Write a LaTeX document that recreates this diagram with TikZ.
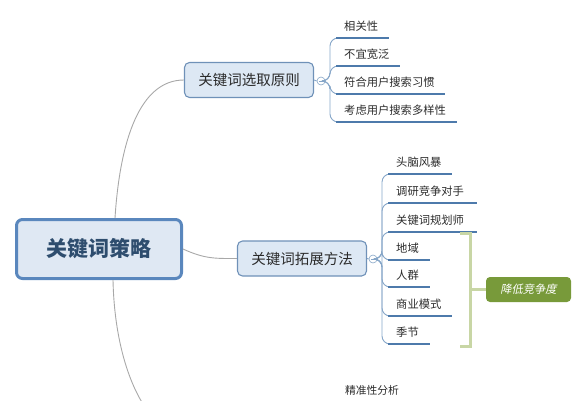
\documentclass[tikz,border=0pt]{standalone}
\usepackage{fontspec}
\setmainfont{Noto Sans CJK SC}[AutoFakeSlant=0.2]
\definecolor{rootblue}{HTML}{5A87BD}
\definecolor{rootfill}{HTML}{DFE8F3}
\definecolor{roottext}{HTML}{2E4D6E}
\definecolor{brblue}{HTML}{6F91B8}
\definecolor{brfill}{HTML}{DDE8F4}
\definecolor{ulblue}{HTML}{4D7AAB}
\definecolor{linkgray}{HTML}{A8A8A8}
\definecolor{subblue}{HTML}{86A6C8}
\definecolor{brackgreen}{HTML}{C8D6A5}
\definecolor{accgreen}{HTML}{789A3A}
\definecolor{txt}{HTML}{2B2B2B}
\begin{document}
\begin{tikzpicture}[x=1pt,y=-1pt,
  rootbox/.style={draw=rootblue, line width=3pt, fill=rootfill, rounded corners=6pt,
    minimum width=165pt, minimum height=59pt, inner sep=0pt,
    font=\fontsize{21}{24}\selectfont\bfseries, text=roottext},
  branchbox/.style={draw=brblue, line width=1.1pt, fill=brfill, rounded corners=5pt,
    minimum width=129pt, minimum height=35pt, inner sep=0pt,
    font=\fontsize{14.5}{16}\selectfont, text=txt},
  leaf/.style={anchor=south west, font=\fontsize{11.3}{13}\selectfont, text=txt,
    align=left, inner xsep=8pt, inner ysep=5.5pt, text height=9.5pt, text depth=1.5pt},
  uline/.style={draw=ulblue, line width=2.2pt},
  link/.style={draw=linkgray, line width=0.9pt},
  sublink/.style={draw=subblue, line width=0.9pt, rounded corners=8pt},
  toggle/.style={circle, draw=subblue, fill=white, line width=0.6pt, minimum size=8pt, inner sep=0pt},
  bracket/.style={draw=brackgreen, line width=3pt},
  accent/.style={fill=accgreen, rounded corners=4pt, text=white, inner sep=0pt,
    minimum width=85pt, minimum height=25pt, font=\fontsize{11.3}{13}\selectfont\itshape}
]
\useasboundingbox (0,0) rectangle (575,400);

% root
\node[rootbox] (root) at (99,249) {关键词策略};

% branch 1
\node[branchbox] (b1) at (249,80) {关键词选取原则};
\node[toggle] (t1) at (321,81) {};
\draw[subblue, line width=0.5pt] ([xshift=-2pt]t1.center) -- ([xshift=2pt]t1.center);

% branch 2
\node[branchbox] (b2) at (302,258.5) {关键词拓展方法};
\node[toggle] (t2) at (373,259) {};
\draw[subblue, line width=0.5pt] ([xshift=-2pt]t2.center) -- ([xshift=2pt]t2.center);

% main links
\draw[link] ([xshift=16pt]root.north) .. controls (120,140) and (140,80) .. (b1.west);
\draw[link] (root.east) .. controls (205,259) and (215,258.5) .. (b2.west);
\coordinate (off) at (143,404);
\draw[link] ([xshift=14pt]root.south) .. controls (114,330) and (125,375) .. (off);
\draw[sublink] (b1.east) -- (t1.west);
\draw[sublink] (b2.east) -- (t2.west);

% leaves of branch 1
\node[leaf, text width=37pt]  (a1) at (336,38)  {相关性};
\node[leaf, text width=48pt]  (a2) at (336,66)  {不宜宽泛};
\node[leaf, text width=93pt]  (a3) at (336,94)  {符合用户搜索习惯};
\node[leaf, text width=105pt] (a4) at (336,122) {考虑用户搜索多样性};
\foreach \n in {a1,a2,a3,a4}{
  \draw[sublink] (t1.east) -| ([xshift=-6pt]\n.south west) -- (\n.south west);
  \draw[uline] (\n.south west) -- (\n.south east);
}

% leaves of branch 2
\node[leaf, text width=48pt] (c1) at (388,174) {头脑风暴};
\node[leaf, text width=73pt] (c2) at (388,203) {调研竞争对手};
\node[leaf, text width=73pt] (c3) at (388,232) {关键词规划师};
\node[leaf, text width=26pt] (c4) at (388,260) {地域};
\node[leaf, text width=26pt] (c5) at (388,287) {人群};
\node[leaf, text width=48pt] (c6) at (388,316) {商业模式};
\node[leaf, text width=26pt] (c7) at (388,344) {季节};
\foreach \n in {c1,c2,c3,c4,c5,c6,c7}{
  \draw[sublink] (t2.east) -| ([xshift=-6pt]\n.south west) -- (\n.south west);
  \draw[uline] (\n.south west) -- (\n.south east);
}

% bracket and summary
\node[accent] (g) at (528.5,289.5) {降低竞争度};
\draw[bracket] (460,233.5) -- (470,233.5) -- (470,346.5) -- (460,346.5);
\coordinate (bm) at (470,289.5);
\draw[bracket] (bm) -- (g.west);

% partially visible third branch leaf
\node[font=\fontsize{10.8}{12}\selectfont, text=txt] (d1) at (372,390) {精准性分析};
\end{tikzpicture}
\end{document}
